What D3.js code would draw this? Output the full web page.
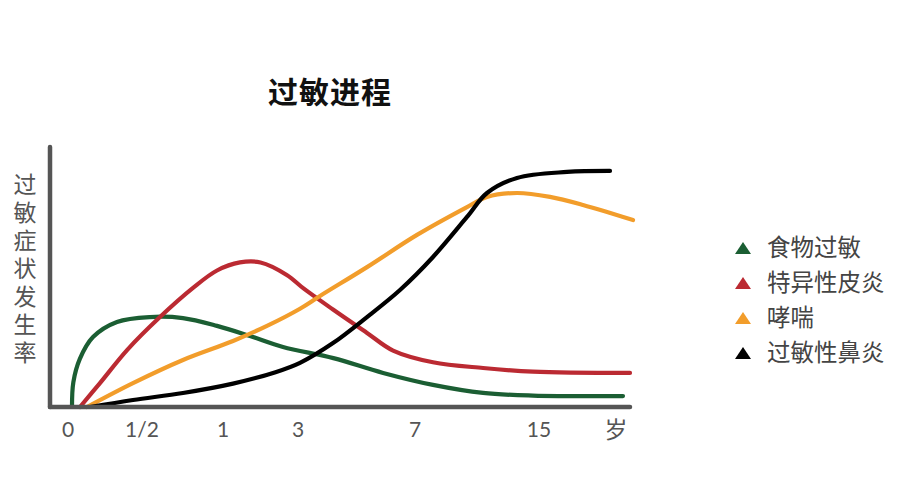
<!DOCTYPE html>
<meta charset="utf-8">
<title>过敏进程</title>
<style>
body { margin: 0; background: #fff; }
text { font-family: "Noto Sans CJK SC", "Noto Sans", sans-serif; }
.tick-label { font-family: Lato, "Noto Sans CJK SC", sans-serif; }
</style>
<body>
<svg></svg>
<script src="https://d3js.org/d3.v7.min.js"></script>
<script>

var width = 900,
    height = 500;

// ages (years) where the axis labels sit; the last slot holds the unit label
var tickAges = [0, 0.5, 1, 3, 7, 15];
var tickLabels = ["0", "1/2", "1", "3", "7", "15"];
var unitLabel = "岁";
var unitAge = 18;

var seriesNames = ["食物过敏", "特异性皮炎", "哮喘", "过敏性鼻炎"];
var seriesColors = ["#1b5e33", "#bb2a32", "#f29d2b", "#000000"];

// [age in years, incidence 0-100]
var foodAllergy = [[0.027, 0], [0.036, 9.5], [0.08, 18.5], [0.169, 26.9], [0.331, 32.7],
    [0.549, 34.6], [0.753, 34.2], [0.963, 31.2], [1.72, 27.3], [2.6, 23.1],
    [4.21, 18.8], [5.91, 13.1], [8.16, 8.5], [11.39, 5.4], [14.61, 4.4], [18.23, 4.2]];
var atopicDermatitis = [[0.081, 0], [0.216, 9.2], [0.399, 21.9], [0.611, 34.6], [0.815, 45.8],
    [0.963, 52.5], [1.45, 55.6], [2.0, 55.6], [2.7, 50.8], [3.2, 45.5],
    [4.197, 37.5], [5.36, 28.5], [6.25, 21.7], [8.16, 17.2], [11.39, 15.0],
    [14.61, 13.6], [18.5, 13.1]];
var asthma = [[0.128, 0], [0.439, 9.2], [0.753, 18.1], [1.267, 25.4], [2.173, 31.2],
    [3.068, 37.8], [3.752, 42.7], [5.359, 53.8], [7.129, 66.2], [10.355, 76.9],
    [11.645, 80.8], [13.581, 82.3], [15.423, 80.8], [16.692, 77.7], [18.615, 71.9]];
var rhinitis = [[0.149, 0], [0.439, 2.7], [0.753, 5.4], [1.267, 9.0], [2.4, 13.4],
    [3.068, 17.0], [4.197, 24.6], [5.359, 34.6], [6.487, 45.0], [8.161, 57.7],
    [10.355, 73.1], [11.645, 82.3], [13.581, 88.1], [16.077, 90.4], [17.731, 90.8]];

var seriesData = [foodAllergy, atopicDermatitis, asthma, rhinitis];

var svg = d3.select("svg").attr("width", width).attr("height", height);

// polylinear scale: the axis is not evenly spaced in years
var x = d3.scaleLinear()
    .domain(tickAges.concat([unitAge]))
    .range([68, 142, 223, 298, 415, 539, 617]);

var y = d3.scaleLinear().domain([0, 100]).range([407, 147]);

var line = d3.line()
    .x(d => x(d[0]))
    .y(d => y(d[1]))
    .curve(d3.curveCatmullRom.alpha(0.5));

// title
svg.append("text")
    .attr("x", 330).attr("y", 103)
    .attr("text-anchor", "middle")
    .style("font-size", "30px").style("font-weight", "bold").style("fill", "#111")
    .style("letter-spacing", "1px")
    .text("过敏进程");

// y axis label, written top to bottom
svg.append("text")
    .attr("x", 25).attr("y", 173)
    .style("writing-mode", "vertical-rl")
    .style("letter-spacing", "5px")
    .style("font-size", "23px").style("fill", "#555")
    .text("过敏症状发生率");

// curves
svg.append("g").selectAll("path")
    .data(seriesData)
    .enter().append("path")
    .attr("d", line)
    .attr("fill", "none")
    .attr("stroke", (d, i) => seriesColors[i])
    .attr("stroke-width", 4.2)
    .attr("stroke-linecap", "round");

// axes drawn as plain thick lines
var axis = svg.append("g").attr("stroke", "#555").attr("stroke-width", 4.5).attr("stroke-linecap", "round");
axis.append("line").attr("x1", 50).attr("x2", 50).attr("y1", y(100)).attr("y2", y(0));
axis.append("line").attr("x1", 50).attr("x2", 630).attr("y1", y(0)).attr("y2", y(0));

// x tick labels
svg.append("g").selectAll("text")
    .data(tickAges)
    .enter().append("text")
    .attr("class", "tick-label")
    .attr("x", d => x(d))
    .attr("y", 437)
    .attr("text-anchor", "middle")
    .style("font-size", "21px").style("fill", "#555")
    .text((d, i) => tickLabels[i]);

svg.append("text")
    .attr("x", x(unitAge) - 1).attr("y", 438)
    .attr("text-anchor", "middle")
    .style("font-size", "23px").style("fill", "#555")
    .text(unitLabel);

// legend
var legend = svg.append("g").selectAll("g")
    .data(seriesNames)
    .enter().append("g")
    .attr("transform", (d, i) => "translate(743," + (248 + i * 35) + ")");

legend.append("path")
    .attr("d", "M-8,6L0,-6L8,6Z")
    .attr("fill", (d, i) => seriesColors[i]);

legend.append("text")
    .attr("x", 24).attr("y", 8)
    .style("font-size", "23.5px").style("fill", "#444")
    .text(d => d);

</script>
</body>
